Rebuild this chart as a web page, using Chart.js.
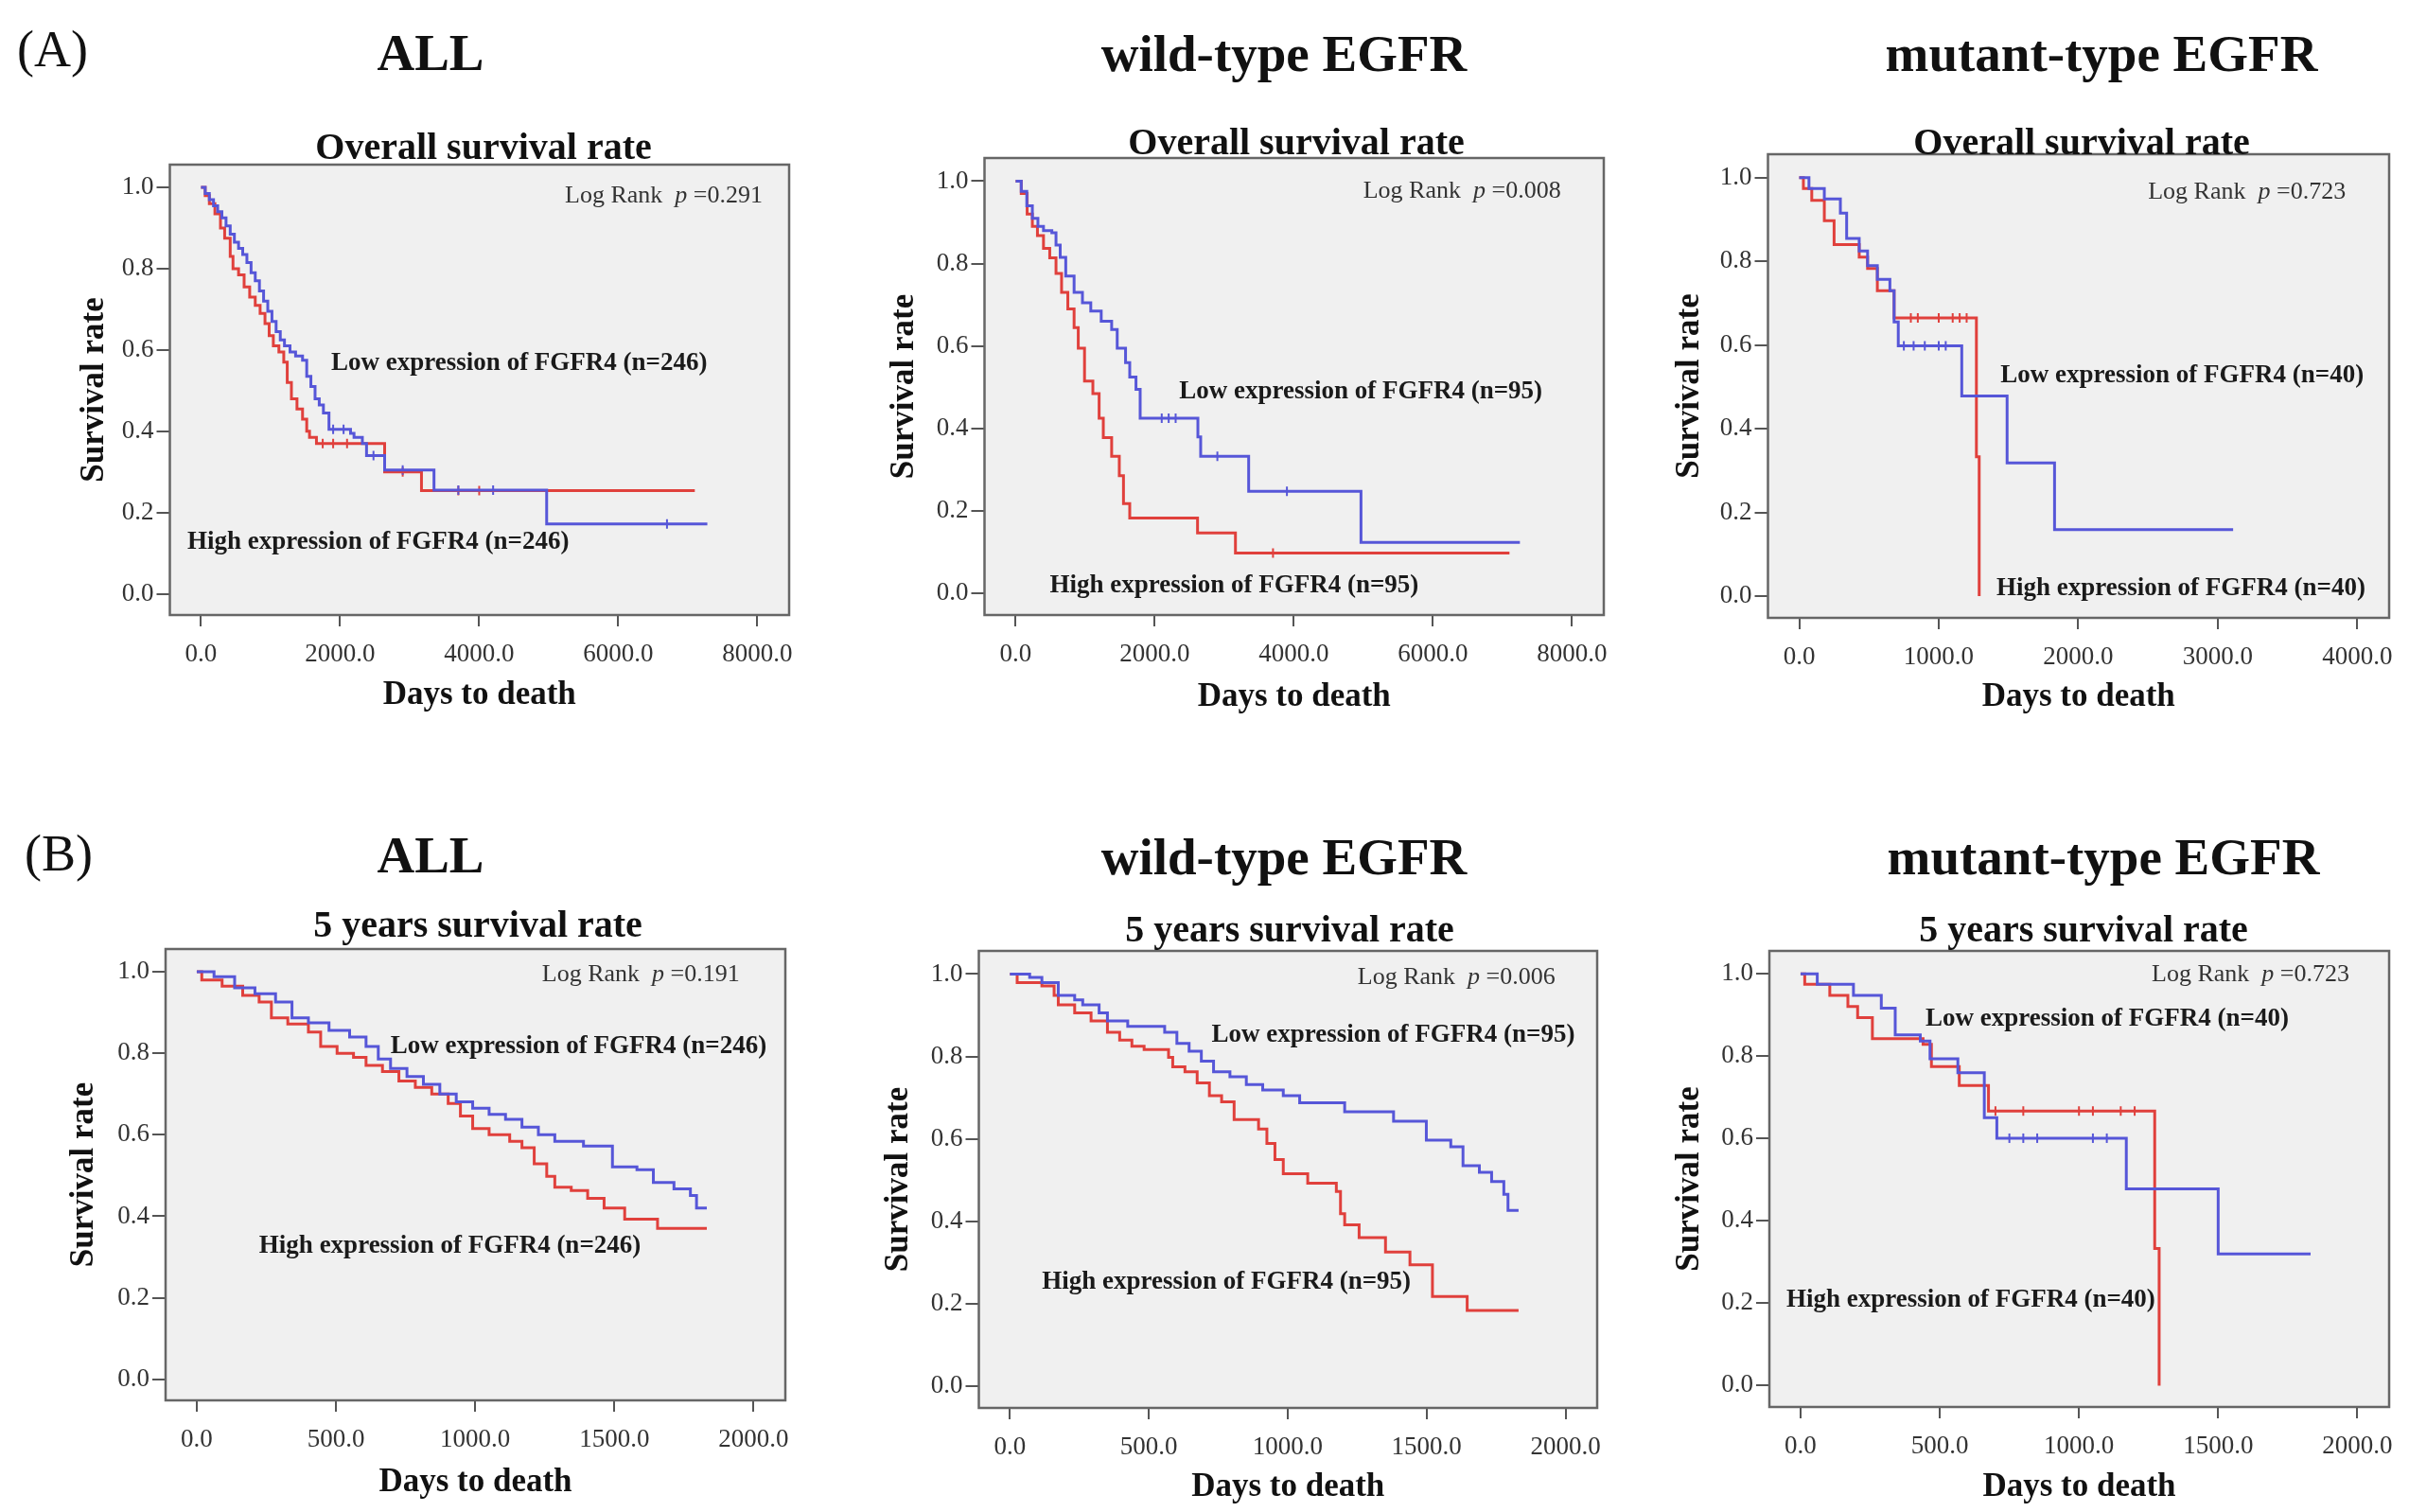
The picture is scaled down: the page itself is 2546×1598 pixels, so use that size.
<!DOCTYPE html>
<html><head><meta charset="utf-8">
<script src="https://cdn.jsdelivr.net/npm/chart.js@4"></script>
<style>
html,body{margin:0;padding:0;background:#fff;}
#fig{position:relative;width:2546px;height:1598px;overflow:hidden;font-family:"Liberation Serif","Times New Roman",serif;color:#111;}
.t{position:absolute;white-space:nowrap;transform:translate(-50%,-50%);line-height:1;}
.head{font-weight:bold;font-size:55px;}
.sub{font-weight:bold;font-size:40px;}
.lab{font-size:54px;transform:translate(0,-50%);}
canvas{position:absolute;}
</style></head><body><div id="fig">
<canvas id="a1"></canvas><canvas id="a2"></canvas><canvas id="a3"></canvas>
<canvas id="b1"></canvas><canvas id="b2"></canvas><canvas id="b3"></canvas>
<div class="t lab" style="left:18px;top:52px">(A)</div>
<div class="t head" style="left:455px;top:55px">ALL</div>
<div class="t head" style="left:1357px;top:56px">wild-type EGFR</div>
<div class="t head" style="left:2221px;top:56px">mutant-type EGFR</div>
<div class="t sub" style="left:511px;top:155px">Overall survival rate</div>
<div class="t sub" style="left:1370px;top:150px">Overall survival rate</div>
<div class="t sub" style="left:2200px;top:150px">Overall survival rate</div>
<div class="t lab" style="left:26px;top:902px">(B)</div>
<div class="t head" style="left:455px;top:903px">ALL</div>
<div class="t head" style="left:1357px;top:905px">wild-type EGFR</div>
<div class="t head" style="left:2223px;top:905px">mutant-type EGFR</div>
<div class="t sub" style="left:505px;top:977px">5 years survival rate</div>
<div class="t sub" style="left:1363px;top:982px">5 years survival rate</div>
<div class="t sub" style="left:2202px;top:982px">5 years survival rate</div>
</div>
<script>
// ---------- DATA ----------
const yTickValues = [0, 0.2, 0.4, 0.6, 0.8, 1.0];
const osAllXTicks = [0, 2000, 4000, 6000, 8000];
const osWildXTicks = [0, 2000, 4000, 6000, 8000];
const osMutXTicks = [0, 1000, 2000, 3000, 4000];
const fyXTicks = [0, 500, 1000, 1500, 2000];

// (A) Overall survival, ALL
const osAllLowDays = [0,60,120,180,240,300,360,420,480,540,600,660,720,780,840,900,960,1020,1080,1140,1200,1280,1360,1460,1520,1580,1640,1700,1760,1840,2150,2200,2320,2380,2640,3350,4970,7280];
const osAllLowSurv = [1.0,0.985,0.97,0.955,0.94,0.925,0.905,0.885,0.865,0.85,0.835,0.815,0.79,0.77,0.745,0.72,0.695,0.67,0.645,0.625,0.61,0.595,0.585,0.575,0.535,0.51,0.48,0.465,0.445,0.405,0.395,0.385,0.37,0.34,0.305,0.255,0.172,0.172];
const osAllHighDays = [0,60,120,200,280,340,420,460,540,620,700,780,850,920,980,1040,1120,1190,1240,1300,1380,1460,1520,1560,1660,2640,3170,7100];
const osAllHighSurv = [1.0,0.98,0.96,0.935,0.9,0.875,0.83,0.8,0.785,0.755,0.73,0.71,0.69,0.665,0.635,0.61,0.595,0.57,0.52,0.48,0.455,0.43,0.4,0.385,0.37,0.3,0.254,0.254];
const osAllLowCensored = [1900, 2050, 2480, 2900, 3700, 4200, 6700];
const osAllHighCensored = [1750, 1900, 2100, 2900, 3700, 4000];

// (A) Overall survival, wild-type EGFR
const osWildLowDays = [0,80,160,240,320,400,520,580,640,720,840,960,1080,1230,1380,1460,1580,1640,1730,1790,2620,2660,3350,4965,7250];
const osWildLowSurv = [1.0,0.975,0.94,0.91,0.89,0.88,0.875,0.845,0.815,0.77,0.73,0.705,0.685,0.66,0.64,0.595,0.56,0.525,0.495,0.425,0.38,0.333,0.248,0.124,0.124];
const osWildHighDays = [0,80,165,240,313,400,490,580,660,750,840,900,990,1110,1200,1260,1380,1490,1550,1640,2615,3160,7100];
const osWildHighSurv = [1.0,0.97,0.92,0.89,0.868,0.837,0.814,0.776,0.73,0.69,0.645,0.595,0.515,0.485,0.425,0.378,0.333,0.286,0.218,0.183,0.147,0.098,0.098];
const osWildLowCensored = [2100, 2200, 2300, 2900, 3900];
const osWildHighCensored = [3700];

// (A) Overall survival, mutant-type EGFR
const osMutLowDays = [0,70,180,295,340,430,490,560,650,680,710,1165,1490,1830,3110];
const osMutLowSurv = [1.0,0.974,0.949,0.915,0.855,0.825,0.79,0.757,0.73,0.655,0.598,0.478,0.318,0.159,0.159];
const osMutHighDays = [0,30,90,180,250,430,490,560,680,1270,1290];
const osMutHighSurv = [1.0,0.974,0.946,0.897,0.84,0.81,0.783,0.73,0.665,0.333,0.0];
const osMutLowCensored = [750, 820, 900, 1000, 1050];
const osMutHighCensored = [800, 850, 1000, 1100, 1150, 1200];

// (B) 5 years survival, ALL
const fyAllLowDays = [0,62,136,209,283,342,401,475,549,608,652,696,755,814,873,932,991,1050,1109,1168,1227,1286,1389,1493,1581,1640,1714,1773,1795,1832];
const fyAllLowSurv = [1.0,0.988,0.961,0.946,0.926,0.887,0.875,0.856,0.84,0.817,0.786,0.763,0.743,0.724,0.7,0.681,0.665,0.65,0.638,0.619,0.6,0.584,0.572,0.521,0.514,0.483,0.467,0.451,0.42,0.42];
const fyAllHighDays = [0,18,91,165,224,268,327,401,445,504,563,608,667,726,785,844,903,947,991,1050,1124,1168,1212,1257,1286,1345,1404,1463,1537,1655,1832];
const fyAllHighSurv = [1.0,0.98,0.965,0.942,0.926,0.887,0.872,0.852,0.817,0.8,0.79,0.77,0.755,0.732,0.716,0.7,0.677,0.646,0.615,0.6,0.584,0.568,0.529,0.498,0.471,0.463,0.444,0.42,0.393,0.37,0.37];
const fyAllLowCensored = [];
const fyAllHighCensored = [];

// (B) 5 years survival, wild-type EGFR
const fyWildLowDays = [0,71,115,174,233,262,321,351,424,557,601,645,689,733,792,851,910,984,1043,1205,1381,1499,1587,1631,1690,1734,1778,1793,1831];
const fyWildLowSurv = [1.0,0.992,0.979,0.948,0.937,0.925,0.906,0.886,0.873,0.859,0.832,0.813,0.789,0.763,0.751,0.732,0.719,0.705,0.688,0.666,0.643,0.597,0.581,0.535,0.519,0.497,0.466,0.427,0.427];
const fyWildHighDays = [0,26,115,159,174,233,292,351,395,439,483,571,586,630,674,718,762,807,895,925,954,984,1072,1175,1190,1205,1257,1352,1440,1521,1646,1831];
const fyWildHighSurv = [1.0,0.979,0.971,0.948,0.925,0.906,0.886,0.859,0.84,0.825,0.817,0.798,0.775,0.763,0.736,0.705,0.69,0.647,0.624,0.589,0.55,0.516,0.493,0.473,0.419,0.392,0.361,0.326,0.295,0.218,0.184,0.184];
const fyWildLowCensored = [];
const fyWildHighCensored = [];

// (B) 5 years survival, mutant-type EGFR
const fyMutLowDays = [0,60,190,290,340,430,465,565,660,705,1170,1500,1832];
const fyMutLowSurv = [1.0,0.975,0.948,0.917,0.852,0.837,0.794,0.76,0.651,0.601,0.478,0.32,0.32];
const fyMutHighDays = [0,15,105,170,205,258,440,470,570,675,1272,1288];
const fyMutHighSurv = [1.0,0.975,0.948,0.921,0.894,0.843,0.829,0.775,0.729,0.667,0.333,0.0];
const fyMutLowCensored = [750, 800, 850, 1050, 1100];
const fyMutHighCensored = [700, 800, 1000, 1050, 1150, 1200];

// ---------- STYLE / LAYOUT ----------
const FONT = '"Liberation Serif","Times New Roman",serif';
const BLUE = '#5656d8';
const RED = '#e0403c';

const panels = [
  {id:'a1', L:179.5, T:174, R:833.5, B:650, Yt:100, Xt:735, ticks:osAllXTicks,
   low:[osAllLowDays, osAllLowSurv, osAllLowCensored], high:[osAllHighDays, osAllHighSurv, osAllHighCensored], p:'0.291', n:'246',
   ann:{lr:[8074,0.979], low:[1873,0.566], high:[-195,0.126]}},
  {id:'a2', L:1040.5, T:167, R:1694.5, B:650, Yt:956, Xt:737, ticks:osWildXTicks,
   low:[osWildLowDays, osWildLowSurv, osWildLowCensored], high:[osWildHighDays, osWildHighSurv, osWildHighCensored], p:'0.008', n:'95',
   ann:{lr:[7839,0.975], low:[2350,0.489], high:[490,0.019]}},
  {id:'a3', L:1868.5, T:163, R:2524.5, B:653, Yt:1786, Xt:737, ticks:osMutXTicks,
   low:[osMutLowDays, osMutLowSurv, osMutLowCensored], high:[osMutHighDays, osMutHighSurv, osMutHighCensored], p:'0.723', n:'40',
   ann:{lr:[3917,0.965], low:[1443,0.527], high:[1414,0.017]}},
  {id:'b1', L:175, T:1003, R:830, B:1480, Yt:89, Xt:1567, ticks:fyXTicks,
   low:[fyAllLowDays, fyAllLowSurv, fyAllLowCensored], high:[fyAllHighDays, fyAllHighSurv, fyAllHighCensored], p:'0.191', n:'246',
   ann:{lr:[1950,0.992], low:[696,0.817], high:[224,0.327]}},
  {id:'b2', L:1034.5, T:1005, R:1688, B:1488, Yt:950, Xt:1572, ticks:fyXTicks,
   low:[fyWildLowDays, fyWildLowSurv, fyWildLowCensored], high:[fyWildHighDays, fyWildHighSurv, fyWildHighCensored], p:'0.006', n:'95',
   ann:{lr:[1963,0.991], low:[726,0.852], high:[115,0.253]}},
  {id:'b3', L:1870, T:1005, R:2525, B:1487, Yt:1786, Xt:1572, ticks:fyXTicks,
   low:[fyMutLowDays, fyMutLowSurv, fyMutLowCensored], high:[fyMutHighDays, fyMutHighSurv, fyMutHighCensored], p:'0.723', n:'40',
   ann:{lr:[1971,0.998], low:[449,0.891], high:[-51,0.208]}}
];

function toXY(days, surv){ return days.map((d,i)=>({x:d, y:surv[i]})); }
// censored marks sit on the curve: survival level in force at that day
function survAt(days, surv, t){ let s = surv[0]; for (let i=0;i<days.length;i++){ if (days[i] <= t) s = surv[i]; } return s; }
function censXY(days, surv, cens){ return cens.map(t=>({x:t, y:survAt(days, surv, t)})); }

const framePlugin = {
  id:'kmframe',
  beforeDatasetsDraw(chart){
    const {ctx, chartArea:a} = chart;
    ctx.save(); ctx.fillStyle = '#f0f0f0';
    ctx.fillRect(a.left, a.top, a.right-a.left, a.bottom-a.top); ctx.restore();
  },
  afterDraw(chart, args, opts){
    const {ctx, chartArea:a, scales} = chart;
    ctx.save();
    ctx.strokeStyle = '#666'; ctx.lineWidth = 2.5;
    ctx.strokeRect(a.left, a.top, a.right-a.left, a.bottom-a.top);
    const px = v => scales.x.getPixelForValue(v), py = v => scales.y.getPixelForValue(v);
    ctx.textBaseline = 'middle'; ctx.fillStyle = '#1a1a1a';
    ctx.font = 'bold 27px ' + FONT; ctx.textAlign = 'left';
    ctx.fillText('Low expression of FGFR4 (n=' + opts.n + ')', px(opts.ann.low[0]), py(opts.ann.low[1]));
    ctx.fillText('High expression of FGFR4 (n=' + opts.n + ')', px(opts.ann.high[0]), py(opts.ann.high[1]));
    const parts = [['Log Rank  ', 'normal 26px '], ['p', 'italic 26px '], [' =' + opts.p, 'normal 26px ']];
    let w = 0;
    parts.forEach(pt => { ctx.font = pt[1] + FONT; w += ctx.measureText(pt[0]).width; });
    let x = px(opts.ann.lr[0]) - w; const y = py(opts.ann.lr[1]);
    ctx.fillStyle = '#333';
    parts.forEach(pt => { ctx.font = pt[1] + FONT; ctx.fillText(pt[0], x, y); x += ctx.measureText(pt[0]).width; });
    ctx.restore();
  }
};

function lineDs(label, src, color){
  return {label, data:toXY(src[0], src[1]), borderColor:color, borderWidth:3, stepped:'before', pointRadius:0, fill:false};
}
function censDs(label, src, color){
  return {label, data:censXY(src[0], src[1], src[2]), showLine:false, borderColor:color, backgroundColor:color,
          pointStyle:'line', rotation:90, pointRadius:5, pointBorderWidth:2, pointHoverRadius:0};
}

function makePanel(p){
  const cv = document.getElementById(p.id);
  const left = Math.round(p.Yt - 21), top = Math.round(p.T - 12);
  const width = Math.round(p.R + 12 - left), height = Math.round(p.Xt + 21 - top);
  cv.style.left = left + 'px'; cv.style.top = top + 'px';
  cv.width = width; cv.height = height; cv.style.width = width + 'px'; cv.style.height = height + 'px';
  const yW = p.L - left, xH = top + height - p.B;
  const R = p.ticks[p.ticks.length-1];
  new Chart(cv, {
    type:'line',
    data:{datasets:[
      lineDs('Low expression of FGFR4', p.low, BLUE),
      lineDs('High expression of FGFR4', p.high, RED),
      censDs('Low expression of FGFR4-censored', p.low, BLUE),
      censDs('High expression of FGFR4-censored', p.high, RED)
    ]},
    options:{
      responsive:false, devicePixelRatio:1, animation:false, events:[],
      layout:{padding:{left:0, right:12, top:12, bottom:0}},
      plugins:{legend:{display:false}, tooltip:{enabled:false}, title:{display:false},
        kmframe:{n:p.n, p:p.p, ann:p.ann}},
      scales:{
        x:{type:'linear', min:-0.056*R, max:1.057*R,
          afterBuildTicks:s=>{ s.ticks = p.ticks.map(v=>({value:v})); },
          ticks:{callback:v=>Number(v).toFixed(1), font:{family:FONT, size:27}, color:'#333', padding:14, maxRotation:0, autoSkip:false},
          grid:{drawOnChartArea:false, drawTicks:true, tickLength:12, color:'#555', lineWidth:2},
          border:{display:false},
          title:{display:true, text:'Days to death', font:{family:FONT, size:35, weight:'bold'}, color:'#111', padding:0},
          afterFit:s=>{ s.height = xH; s.paddingLeft = 0; s.paddingRight = 0; }
        },
        y:{type:'linear', min:-0.052, max:1.056,
          afterBuildTicks:s=>{ s.ticks = yTickValues.map(v=>({value:v})); },
          ticks:{callback:v=>Number(v).toFixed(1), font:{family:FONT, size:27}, color:'#333', padding:3, autoSkip:false},
          grid:{drawOnChartArea:false, drawTicks:true, tickLength:14, color:'#555', lineWidth:2},
          border:{display:false},
          title:{display:true, text:'Survival rate', font:{family:FONT, size:35, weight:'bold'}, color:'#111', padding:0},
          afterFit:s=>{ s.width = yW; s.paddingTop = 0; s.paddingBottom = 0; }
        }
      }
    },
    plugins:[framePlugin]
  });
}
panels.forEach(makePanel);
</script>
</body></html>
